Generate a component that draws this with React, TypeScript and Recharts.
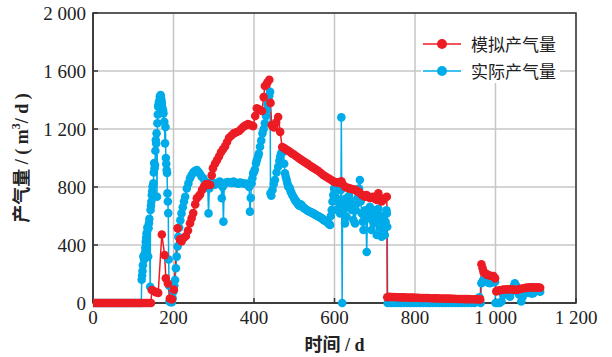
import React from "react";
import { LineChart, Line, XAxis, YAxis, CartesianGrid, Legend, ReferenceArea } from "recharts";

// [day, gas rate m3/d]
const simulated: [number, number][] = [
  [0, 0], [5, 0], [10, 0], [15, 0], [20, 0], [25, 0], [30, 0], [35, 0], [40, 0], [45, 0], [50, 0], [55, 0], [60, 0],
  [65, 0], [70, 0], [75, 0], [80, 0], [85, 0], [90, 0], [95, 0], [100, 0], [105, 0], [110, 0], [115, 0], [120, 0],
  [125, 0], [130, 0], [135, 0], [140, 0], [144, 0],
  [146, 90], [150, 85], [156, 75], [162, 70], [171, 472], [178, 330], [181, 170], [186, 135], [191, 30], [196, 25],
  [201, 92], [210, 515], [216, 440], [220, 425], [226, 450], [231, 462], [236, 500], [241, 550], [245, 585], [249, 620],
  [254, 680], [258, 722], [262, 735], [266, 748], [271, 780], [276, 805], [281, 818], [286, 820], [291, 814], [295, 880],
  [298, 930], [303, 960], [308, 985], [313, 1010], [318, 1040], [323, 1060], [328, 1080], [333, 1110], [338, 1140],
  [344, 1155], [350, 1170], [356, 1178], [363, 1186], [368, 1200], [373, 1214], [379, 1225], [385, 1234], [391, 1228],
  [398, 1220], [403, 1290], [407, 1343], [413, 1335], [420, 1324], [424, 1420], [427, 1497], [433, 1520], [438, 1540],
  [441, 1380], [444, 1228], [447, 1215], [450, 1210], [455, 1245], [460, 1283], [465, 1180], [470, 1076], [475, 1068],
  [480, 1058], [485, 1050], [489, 1043], [494, 1032], [500, 1022], [505, 1012], [510, 1002], [515, 992], [520, 983],
  [525, 973], [531, 963], [535, 955], [540, 945], [545, 937], [550, 928], [555, 919], [560, 910], [566, 897], [572, 883],
  [578, 872], [585, 860], [591, 850], [597, 840], [601, 835], [605, 832], [610, 830], [614, 828], [617, 840], [620, 822],
  [626, 802], [630, 797], [635, 792], [640, 788], [643, 786], [647, 783], [651, 780], [655, 775], [659, 768], [663, 760],
  [668, 745], [672, 740], [676, 733], [679, 745], [682, 740], [685, 730], [688, 724], [692, 728], [696, 733], [700, 720],
  [705, 710], [709, 756], [713, 720], [717, 700], [721, 712], [725, 724], [730, 733],
  [731, 40], [736, 42], [742, 41], [748, 41], [754, 40], [760, 40], [766, 39], [772, 39], [778, 38], [784, 38], [790, 37],
  [796, 37], [802, 36], [808, 36], [814, 35], [820, 35], [826, 34], [832, 34], [838, 33], [844, 33], [850, 32], [856, 32],
  [862, 31], [868, 31], [874, 30], [880, 30], [886, 30], [892, 29], [898, 29], [904, 28], [910, 28], [916, 28], [922, 27],
  [928, 27], [934, 27], [940, 26], [946, 26], [952, 26], [958, 25], [962, 25],
  [965, 267], [968, 240], [970, 216], [975, 205], [978, 195], [982, 193], [986, 188], [990, 186], [995, 186], [999, 170],
  [1002, 80], [1006, 85], [1010, 88], [1015, 90], [1020, 92], [1025, 93], [1030, 94], [1036, 95], [1041, 93], [1047, 92],
  [1053, 90], [1058, 95], [1063, 98], [1069, 101], [1075, 104], [1080, 106], [1086, 108], [1091, 108], [1096, 107],
  [1101, 108], [1106, 108], [1111, 105],
];

const actual: [number, number][] = [
  [0, 0], [5, 0], [10, 0], [15, 0], [20, 0], [25, 0], [30, 0], [35, 0], [40, 0], [45, 0], [50, 0], [55, 0], [60, 0],
  [65, 0], [70, 0], [75, 0], [80, 0], [85, 0], [90, 0], [95, 0], [100, 0], [105, 0], [110, 0], [115, 0], [120, 0],
  [121, 160], [122, 190], [123, 220], [124, 260], [125, 320], [127, 300], [128, 330], [129, 343], [130, 380], [131, 420],
  [132, 450], [133, 480], [135, 520], [137, 320], [138, 515], [139, 550], [140, 580], [142, 112], [143, 641], [144, 670],
  [145, 700], [146, 745], [147, 770], [148, 803], [150, 825], [151, 900], [152, 965], [153, 930], [154, 952],
  [155, 1050], [156, 1124], [157, 1100], [158, 1170], [159, 733], [160, 1240], [161, 1300], [162, 1354], [163, 1370],
  [164, 1390], [166, 1423], [168, 1434], [169, 1420], [170, 1400], [171, 1380], [172, 1350], [174, 1330], [175, 1308],
  [177, 1250], [179, 1101], [180, 1214], [181, 1000], [182, 960], [183, 917], [184, 897], [185, 756], [186, 700],
  [187, 620], [188, 300], [189, 120], [190, 10], [193, 5], [196, 5], [198, 32], [200, 80], [202, 120], [204, 159],
  [206, 240], [208, 320], [210, 390], [212, 457], [214, 520], [217, 570], [220, 618], [223, 660], [226, 700], [229, 733],
  [233, 790], [237, 825], [241, 860], [245, 883], [249, 900], [253, 910], [258, 917], [262, 905], [266, 890], [270, 871],
  [274, 860], [278, 840], [282, 825], [285, 820], [287, 618], [289, 790], [291, 825], [295, 830], [299, 820], [303, 815],
  [307, 825], [311, 830], [315, 837], [318, 820], [320, 722], [322, 800], [324, 561], [326, 820], [330, 830], [335, 835],
  [340, 832], [345, 828], [349, 837], [353, 830], [357, 826], [361, 822], [365, 830], [369, 828], [373, 825], [377, 822],
  [381, 820], [385, 824], [388, 800], [390, 630], [392, 725], [394, 825], [396, 860], [398, 894], [400, 905], [402, 920],
  [405, 963], [407, 986], [410, 1010], [412, 1030], [415, 1078], [418, 1120], [421, 1170], [424, 1200], [427, 1239],
  [430, 1290], [432, 1331], [434, 1370], [436, 1400], [438, 1430], [440, 1457], [441, 756], [443, 740], [446, 780],
  [449, 820], [452, 848], [456, 900], [460, 940], [463, 980], [465, 1009], [467, 1030], [470, 1040], [473, 1043],
  [475, 960], [477, 894], [479, 870], [481, 850], [483, 825], [485, 802], [487, 800], [489, 790], [491, 770], [493, 760],
  [495, 745], [498, 733], [500, 720], [502, 710], [504, 700], [506, 699], [508, 688], [510, 680], [512, 672], [514, 670],
  [516, 680], [518, 676], [520, 665], [522, 660], [524, 655], [526, 650], [528, 648], [531, 641], [533, 638], [535, 635],
  [537, 632], [540, 628], [542, 625], [544, 622], [547, 618], [549, 615], [551, 610], [553, 608], [555, 605], [558, 600],
  [560, 598], [562, 594], [564, 591], [566, 588], [568, 585], [570, 580], [572, 575], [574, 571], [576, 568], [578, 565],
  [581, 561], [583, 555], [585, 549], [587, 544], [589, 538], [591, 600], [593, 641], [595, 700], [597, 745], [599, 790],
  [601, 770], [603, 733], [605, 641], [607, 779], [609, 700], [611, 650], [614, 618], [616, 780], [617, 1280], [619, 0],
  [620, 620], [622, 664], [624, 700], [626, 549], [628, 720], [630, 595], [632, 680], [634, 664], [636, 740], [638, 710],
  [640, 660], [643, 641], [645, 700], [647, 572], [649, 650], [651, 549], [653, 640], [655, 687], [657, 720], [659, 760],
  [661, 790], [663, 848], [665, 700], [668, 618], [670, 560], [672, 503], [674, 600], [676, 640], [678, 600], [680, 352],
  [682, 618], [684, 640], [686, 600], [688, 664], [690, 580], [692, 503], [694, 600], [697, 549], [699, 640], [701, 580],
  [703, 600], [705, 469], [707, 618], [709, 650], [711, 600], [713, 572], [715, 520], [717, 457], [719, 560], [721, 481],
  [723, 600], [725, 469], [727, 560], [729, 640], [730, 618], [731, 526],
  [732, 0], [740, 0], [748, 0], [756, 0], [764, 0], [772, 0], [780, 0], [788, 0], [796, 0], [804, 0], [812, 0], [820, 0],
  [828, 0], [836, 0], [844, 0], [852, 0], [860, 0], [868, 0], [876, 0], [884, 0], [892, 0], [900, 0], [908, 0], [916, 0],
  [924, 0], [932, 0], [940, 0], [948, 0], [955, 20], [960, 40], [963, 0],
  [965, 136], [968, 150], [970, 159], [974, 155], [978, 150], [982, 140], [986, 136], [990, 140], [995, 145], [999, 147],
  [1000, 0], [1005, 0], [1010, 0], [1015, 10], [1019, 55], [1024, 60], [1028, 62], [1032, 67], [1036, 43], [1040, 80],
  [1044, 110], [1048, 136], [1051, 120], [1053, 101], [1056, 80], [1058, 60], [1061, 55], [1064, 10], [1067, 40],
  [1070, 60], [1074, 70], [1078, 72], [1082, 75], [1086, 70], [1090, 65], [1094, 67], [1098, 80], [1102, 90],
  [1106, 101], [1111, 78],
];

const xTicks = [0, 200, 400, 600, 800, 1000, 1200];
const yTicks = [0, 400, 800, 1200, 1600, 2000];

const simData = simulated.map(([day, gas]) => ({ day, gas }));
const actData = actual.map(([day, gas]) => ({ day, gas }));

const RED = "#ec1c24";
const BLUE = "#00abe9";
const SERIF = "'Liberation Serif', 'Times New Roman', 'Noto Sans CJK SC', serif";

const fmt = (v: number) => (v >= 1000 ? `${Math.floor(v / 1000)} ${String(v % 1000).padStart(3, "0")}` : String(v));

const LegendBox = ({ payload }: any) => (
  <div style={{ background: "#fff", width: 139, height: 69, paddingTop: 16, boxSizing: "border-box" }}>
    {[...(payload || [])].reverse().map((p: any) => (
      <div key={p.value} style={{ display: "flex", alignItems: "center", height: 27 }}>
        <svg width={40} height={14} style={{ marginLeft: 2 }}>
          <line x1={0} y1={7} x2={38} y2={7} stroke={p.color} strokeWidth={1.5} />
          <circle cx={19} cy={7} r={5} fill={p.color} />
        </svg>
        <span style={{ marginLeft: 8, fontSize: 17, color: "#222", fontFamily: "'Noto Sans CJK SC', sans-serif" }}>
          {p.value}
        </span>
      </div>
    ))}
  </div>
);

export default function App() {
  return (
    <div style={{ position: "absolute", left: 0, top: 0, background: "#fff" }}>
      <LineChart width={612} height={357} margin={{ top: 13, right: 36, bottom: 0, left: 0 }}>
        <CartesianGrid stroke="#c6c6c6" strokeWidth={1.5} />
        <XAxis
          type="number"
          dataKey="day"
          domain={[0, 1200]}
          ticks={xTicks}
          tickFormatter={fmt}
          height={54}
          allowDataOverflow
          axisLine={{ stroke: "#333", strokeWidth: 1.5 }}
          tickLine={{ stroke: "#333", strokeWidth: 1.5 }}
          tickSize={-5}
          tickMargin={13}
          tick={{ fill: "#222", fontSize: 19, fontFamily: SERIF }}
          label={({ viewBox }: any) => (
            <text
              x={viewBox.x + viewBox.width / 2}
              y={345}
              textAnchor="middle"
              dominantBaseline="central"
              fontSize={18}
              fontWeight="bold"
              fill="#222"
              fontFamily={SERIF}
            >
              时间 / d
            </text>
          )}
        />
        <YAxis
          type="number"
          domain={[0, 2000]}
          ticks={yTicks}
          tickFormatter={fmt}
          width={93}
          axisLine={{ stroke: "#333", strokeWidth: 1.5 }}
          tickLine={{ stroke: "#333", strokeWidth: 1.5 }}
          tickSize={-5}
          tickMargin={12}
          tick={{ fill: "#222", fontSize: 19, fontFamily: SERIF }}
          label={({ viewBox }: any) => {
            const cy = viewBox.y + viewBox.height / 2;
            return (
              <text
                x={22}
                y={cy}
                transform={`rotate(-90, 22, ${cy})`}
                textAnchor="middle"
                dominantBaseline="central"
                fontSize={18}
                fontWeight="bold"
                fill="#222"
                fontFamily={SERIF}
              >
                产气量 / ( m<tspan dy={-6} fontSize={12}>3</tspan>
                <tspan dy={6}>/ d )</tspan>
              </text>
            );
          }}
        />
        <ReferenceArea x1={0} x2={1200} y1={0} y2={2000} fill="none" stroke="#333" strokeWidth={1.5} />
        <Legend
          layout="vertical"
          align="center"
          verticalAlign="middle"
          content={<LegendBox />}
          wrapperStyle={{ left: 421, top: 14, width: 139, height: 69 }}
        />
        <Line
          data={actData}
          dataKey="gas"
          name="实际产气量"
          type="linear"
          stroke={BLUE}
          strokeWidth={1.5}
          dot={{ r: 4.3, fill: BLUE, stroke: "none" }}
          activeDot={false}
          isAnimationActive={false}
        />
        <Line
          data={simData}
          dataKey="gas"
          name="模拟产气量"
          type="linear"
          stroke={RED}
          strokeWidth={1.5}
          dot={{ r: 4.3, fill: RED, stroke: "none" }}
          activeDot={false}
          isAnimationActive={false}
        />
      </LineChart>
    </div>
  );
}
